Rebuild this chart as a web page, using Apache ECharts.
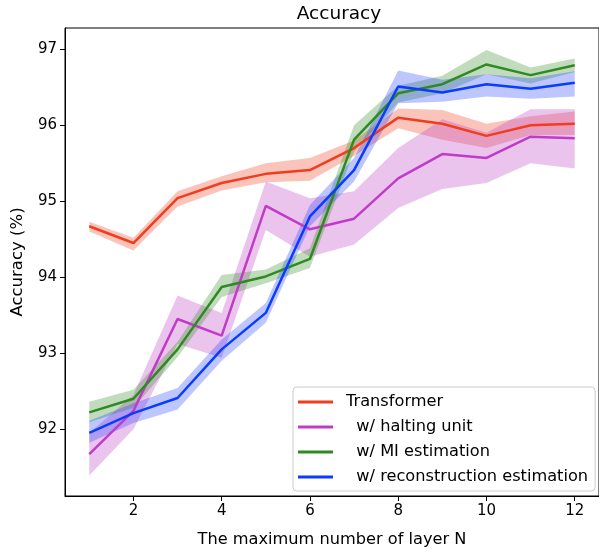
<!DOCTYPE html>
<html><head><meta charset="utf-8">
<script src="https://cdn.jsdelivr.net/npm/echarts@6/dist/echarts.min.js"></script>
<style>html,body{margin:0;padding:0;background:#fff}#c{width:599px;height:553px}</style>
</head><body><div id="c"></div>
<script>
const xs = [1,2,3,4,5,6,7,8,9,10,11,12];
const xTicks = [2,4,6,8,10,12];
const yTicks = [92,93,94,95,96,97];

const transformer = [94.67,94.45,95.04,95.24,95.36,95.41,95.70,96.10,96.02,95.86,96.00,96.02];
const transLo     = [94.60,94.35,94.93,95.14,95.25,95.27,95.60,95.96,95.81,95.70,95.87,95.87];
const transHi     = [94.73,94.52,95.13,95.33,95.50,95.57,95.80,96.22,96.20,96.02,96.12,96.18];

const halting = [91.67,92.24,93.45,93.23,94.94,94.63,94.77,95.30,95.62,95.57,95.85,95.83];
const haltLo  = [91.39,92.00,93.12,92.94,94.62,94.27,94.43,94.91,95.16,95.24,95.50,95.43];
const haltHi  = [91.95,92.45,93.76,93.53,95.26,95.04,95.13,95.70,96.08,95.90,96.21,96.21];

const mi   = [92.22,92.40,93.05,93.87,94.01,94.24,95.81,96.42,96.54,96.80,96.66,96.79];
const miLo = [92.09,92.28,92.95,93.74,93.92,94.12,95.65,96.30,96.42,96.67,96.55,96.70];
const miHi = [92.36,92.52,93.15,94.03,94.10,94.38,96.00,96.52,96.65,96.99,96.76,96.88];

const recon   = [91.95,92.21,92.41,93.05,93.53,94.80,95.41,96.51,96.43,96.54,96.48,96.56];
const reconLo = [91.82,92.08,92.26,92.90,93.40,94.67,95.26,96.29,96.31,96.38,96.35,96.38];
const reconHi = [92.11,92.34,92.54,93.18,93.66,94.95,95.57,96.72,96.60,96.67,96.62,96.71];

const names = ['Transformer','  w/ halting unit','  w/ MI estimation','  w/ reconstruction estimation'];
const colors = ['#f23c1e','#c03cc8','#2f8a22','#0a3cff'];
const bandColors = ['rgba(240,60,30,0.3)','rgba(190,60,200,0.3)','rgba(47,138,34,0.3)','rgba(20,50,255,0.28)'];
const mains = [transformer, halting, mi, recon];
const los = [transLo, haltLo, miLo, reconLo];
const his = [transHi, haltHi, miHi, reconHi];

const font = 'DejaVu Sans';
const series = [];
for (let i = 0; i < 4; i++) {
  const data = xs.map((x,k)=>[x, los[i][k], his[i][k]]);
  series.push({
    type:'custom', name:'band'+i, silent:true, z:1,
    encode:{x:0, y:[1,2]},
    data: data,
    renderItem: function(params, api) {
      if (params.dataIndex !== 0) return null;
      const pts = [];
      for (let k = 0; k < data.length; k++) pts.push(api.coord([data[k][0], data[k][2]]));
      for (let k = data.length - 1; k >= 0; k--) pts.push(api.coord([data[k][0], data[k][1]]));
      return {type:'polygon', shape:{points:pts}, style:{fill:bandColors[i], stroke:null}};
    }
  });
}
for (let i = 0; i < 4; i++) {
  series.push({
    type:'line', name:names[i], symbol:'none', color:colors[i],
    data: xs.map((x,k)=>[x, mains[i][k]]),
    lineStyle:{width:2.5, color:colors[i]}, z:3
  });
}

const chart = echarts.init(document.getElementById('c'), null, {renderer:'canvas'});
chart.setOption({
  animation:false,
  backgroundColor:'#fff',
  title:{text:'Accuracy', left:334, top:0, textAlign:'center',
    textStyle:{fontFamily:font, fontSize:18.5, fontWeight:'normal', color:'#000'}},
  grid:{left:65, top:28, width:538, height:469, show:true, borderColor:'#000', borderWidth:1},
  xAxis:{type:'value', min:0.45, max:12.55,
    name:'The maximum number of layer N', nameLocation:'middle', nameGap:36,
    nameTextStyle:{fontFamily:font, fontSize:16.2, color:'#000'},
    axisLine:{show:true, onZero:false, lineStyle:{color:'#000', width:1}},
    axisTick:{show:true, length:5, customValues:xTicks, lineStyle:{color:'#000'}},
    axisLabel:{customValues:xTicks, fontFamily:font, fontSize:15, color:'#000', margin:8},
    splitLine:{show:false}},
  yAxis:{type:'value', min:91.12, max:97.28,
    name:'Accuracy (%)', nameLocation:'middle', nameGap:39, nameRotate:90,
    nameTextStyle:{fontFamily:font, fontSize:16.5, color:'#000'},
    axisLine:{show:true, onZero:false, lineStyle:{color:'#000', width:1}},
    axisTick:{show:true, length:5, customValues:yTicks, lineStyle:{color:'#000'}},
    axisLabel:{customValues:yTicks, fontFamily:font, fontSize:15, color:'#000', margin:8},
    splitLine:{show:false}},
  legend:{data:names, orient:'vertical', left:293, top:387,
    backgroundColor:'rgba(255,255,255,0.85)', borderColor:'#ccc', borderWidth:1, borderRadius:4,
    padding:[6,7,5,5], itemGap:7, itemWidth:35, itemHeight:3, icon:'rect',
    textStyle:{fontFamily:font, fontSize:16.2, color:'#000', lineHeight:18, padding:[0,0,0,8]}},
  series: series
});
</script></body></html>
